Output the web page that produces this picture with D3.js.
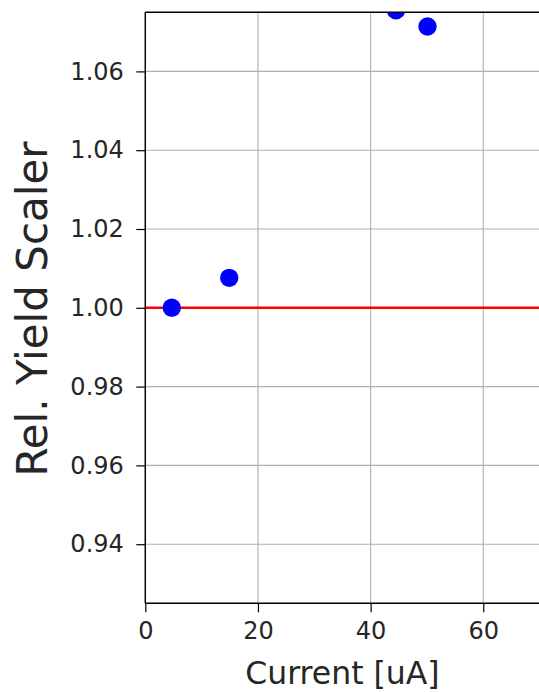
<!DOCTYPE html>
<html>
<head>
<meta charset="utf-8">
<script src="https://cdn.jsdelivr.net/npm/d3@7"></script>
<style>
  html, body { margin: 0; padding: 0; background: #fff; }
  svg { display: block; }
  text { font-family: "DejaVu Sans", sans-serif; fill: #262626; }
</style>
</head>
<body>
<div id="chart"></div>
<script>
// Data
const currents = [4.7, 14.9, 44.5, 50.1];
const yields = [1.000, 1.0076, 1.0755, 1.0714];
const xTicks = [0, 20, 40, 60];
const yTicks = [0.94, 0.96, 0.98, 1.00, 1.02, 1.04, 1.06];
const refValue = [1.0];
const xDomain = [0, 70];
const yDomain = [0.925, 1.075];
const xLabel = "Current [uA]";
const yLabel = "Rel. Yield Scaler";

const W = 539, H = 692;
const mLeft = 145.3, mRight = 539.6, mTop = 12.3, mBottom = 603.3;

const svg = d3.select("#chart").append("svg").attr("width", W).attr("height", H);

const x = d3.scaleLinear().domain(xDomain).range([mLeft, mRight]);
const y = d3.scaleLinear().domain(yDomain).range([mBottom, mTop]);

svg.append("defs").append("clipPath").attr("id", "clip")
  .append("rect").attr("x", mLeft).attr("y", mTop).attr("width", mRight - mLeft).attr("height", mBottom - mTop);

// grid
const grid = svg.append("g");
grid.selectAll("line.gx").data(xTicks).enter().append("line")
  .attr("x1", d => x(d)).attr("x2", d => x(d)).attr("y1", mTop).attr("y2", mBottom)
  .attr("stroke", "#b0b0b0").attr("stroke-width", 1.1);
grid.selectAll("line.gy").data(yTicks).enter().append("line")
  .attr("y1", d => y(d)).attr("y2", d => y(d)).attr("x1", mLeft).attr("x2", mRight)
  .attr("stroke", "#b0b0b0").attr("stroke-width", 1.1);

const plot = svg.append("g").attr("clip-path", "url(#clip)");
// reference line
plot.selectAll("line.ref").data(refValue).enter().append("line")
  .attr("x1", mLeft).attr("x2", mRight).attr("y1", d => y(d)).attr("y2", d => y(d))
  .attr("stroke", "#ff0000").attr("stroke-width", 2.6);

// points
plot.selectAll("circle").data(currents.map((c, i) => [c, yields[i]])).enter().append("circle")
  .attr("cx", d => x(d[0])).attr("cy", d => y(d[1])).attr("r", 9.2)
  .attr("fill", "#0000ff");

// axes
const xAxis = d3.axisBottom(x).tickValues(xTicks).tickFormat(d3.format("d")).tickSize(9).tickPadding(10);
const gx = svg.append("g").attr("transform", `translate(0,${mBottom})`).call(xAxis);
const yAxis = d3.axisLeft(y).tickValues(yTicks).tickFormat(d3.format(".2f")).tickSize(9).tickPadding(12.5);
const gy = svg.append("g").attr("transform", `translate(${mLeft},0)`).call(yAxis);
[gx, gy].forEach(g => {
  g.select(".domain").remove();
  g.selectAll(".tick line").attr("stroke", "#000").attr("stroke-width", 1.2);
  g.selectAll(".tick text").attr("font-size", 24).attr("fill", "#262626")
    .attr("font-family", "DejaVu Sans, sans-serif");
});

// spines
svg.append("line").attr("x1", mLeft).attr("x2", mLeft).attr("y1", mTop).attr("y2", mBottom).attr("stroke", "#000").attr("stroke-width", 1.4);
svg.append("line").attr("x1", mLeft).attr("x2", mRight).attr("y1", mBottom).attr("y2", mBottom).attr("stroke", "#000").attr("stroke-width", 1.4);
svg.append("line").attr("x1", mLeft).attr("x2", mRight).attr("y1", mTop).attr("y2", mTop).attr("stroke", "#000").attr("stroke-width", 1.4);

// labels
svg.append("text").attr("x", (mLeft + mRight) / 2).attr("y", 684)
  .attr("text-anchor", "middle").attr("font-size", 31.5).text(xLabel);
svg.append("text").attr("transform", `translate(47,309) rotate(-90)`)
  .attr("text-anchor", "middle").attr("font-size", 42).text(yLabel);
</script>
</body>
</html>
